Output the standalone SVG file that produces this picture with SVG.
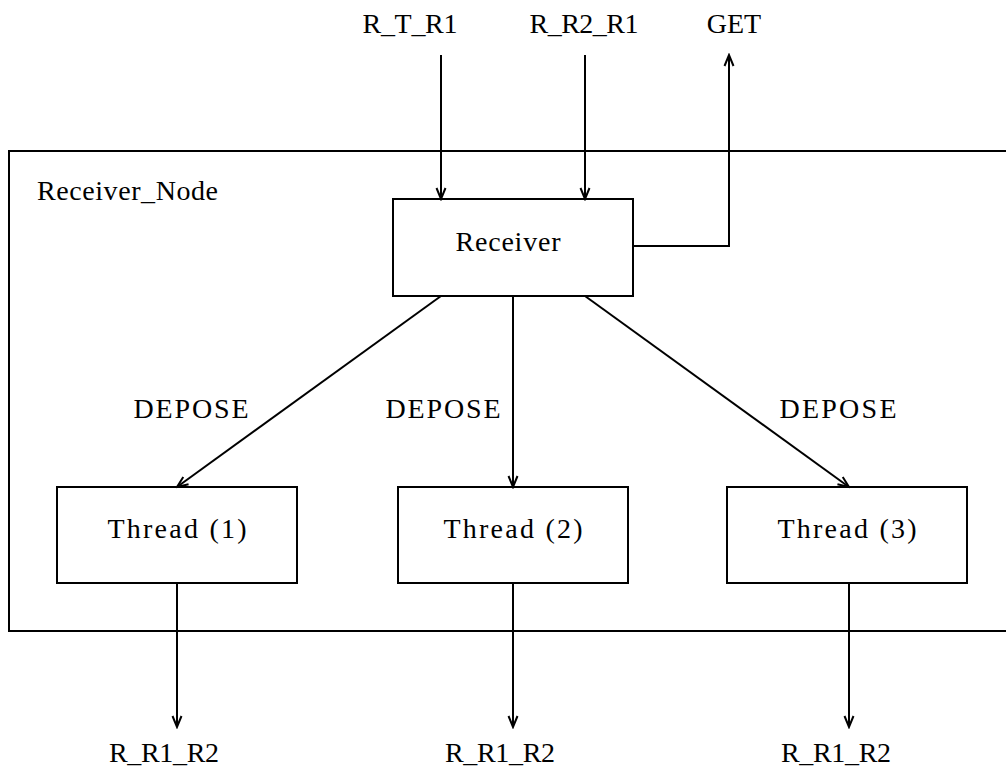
<svg xmlns="http://www.w3.org/2000/svg" width="1006" height="769" viewBox="0 0 1006 769">
<style>
.box{fill:none;stroke:#000;stroke-width:2}
.ln{fill:none;stroke:#000;stroke-width:2}
</style>
<defs>
<marker id="a" viewBox="-12 -6 14 12" markerWidth="14" markerHeight="12" refX="0" refY="0" orient="auto" markerUnits="userSpaceOnUse">
<path d="M-11,-4.5 L0,0 L-11,4.5" fill="none" stroke="#000" stroke-width="2"/>
</marker>
</defs>
<rect width="1006" height="769" fill="#fff"/>
<g font-family="Liberation Serif, Times New Roman, serif" font-size="28" text-anchor="middle" fill="#000">
<g id="receiver_node">
<rect class="box" x="9" y="151" width="1010" height="480"/>
<text x="37" y="200" text-anchor="start" textLength="181" lengthAdjust="spacing">Receiver_Node</text>
</g>
<g id="receiver">
<rect class="box" x="393" y="199" width="240" height="97"/>
<text x="508" y="251" textLength="105" lengthAdjust="spacing">Receiver</text>
</g>
<g id="thread1">
<rect class="box" x="57" y="487" width="240" height="96"/>
<text x="177" y="538" textLength="139" lengthAdjust="spacing">Thread (1)</text>
</g>
<g id="thread2">
<rect class="box" x="398" y="487" width="230" height="96"/>
<text x="513" y="538" textLength="139" lengthAdjust="spacing">Thread (2)</text>
</g>
<g id="thread3">
<rect class="box" x="727" y="487" width="240" height="96"/>
<text x="847" y="538" textLength="139" lengthAdjust="spacing">Thread (3)</text>
</g>
<g id="labels">
<text x="410" y="33" textLength="95" lengthAdjust="spacing">R_T_R1</text>
<text x="584" y="33" textLength="109" lengthAdjust="spacing">R_R2_R1</text>
<text x="734" y="33">GET</text>
<text x="191" y="418" textLength="115" lengthAdjust="spacing">DEPOSE</text>
<text x="443" y="418" textLength="115" lengthAdjust="spacing">DEPOSE</text>
<text x="838" y="418" textLength="117" lengthAdjust="spacing">DEPOSE</text>
<text x="164" y="762" textLength="110" lengthAdjust="spacing">R_R1_R2</text>
<text x="500" y="762" textLength="110" lengthAdjust="spacing">R_R1_R2</text>
<text x="836" y="762" textLength="110" lengthAdjust="spacing">R_R1_R2</text>
</g>
</g>
<g id="connectors">
<line class="ln" x1="441" y1="55" x2="441" y2="199" marker-end="url(#a)"/>
<line class="ln" x1="585" y1="55" x2="585" y2="199" marker-end="url(#a)"/>
<polyline class="ln" points="633,246 729,246 729,55" marker-end="url(#a)"/>
<line class="ln" x1="441" y1="296" x2="177" y2="487" marker-end="url(#a)"/>
<line class="ln" x1="513" y1="296" x2="513" y2="487" marker-end="url(#a)"/>
<line class="ln" x1="585" y1="296" x2="849" y2="487" marker-end="url(#a)"/>
<line class="ln" x1="177" y1="583" x2="177" y2="727" marker-end="url(#a)"/>
<line class="ln" x1="513" y1="583" x2="513" y2="727" marker-end="url(#a)"/>
<line class="ln" x1="849" y1="583" x2="849" y2="727" marker-end="url(#a)"/>
</g>
</svg>
